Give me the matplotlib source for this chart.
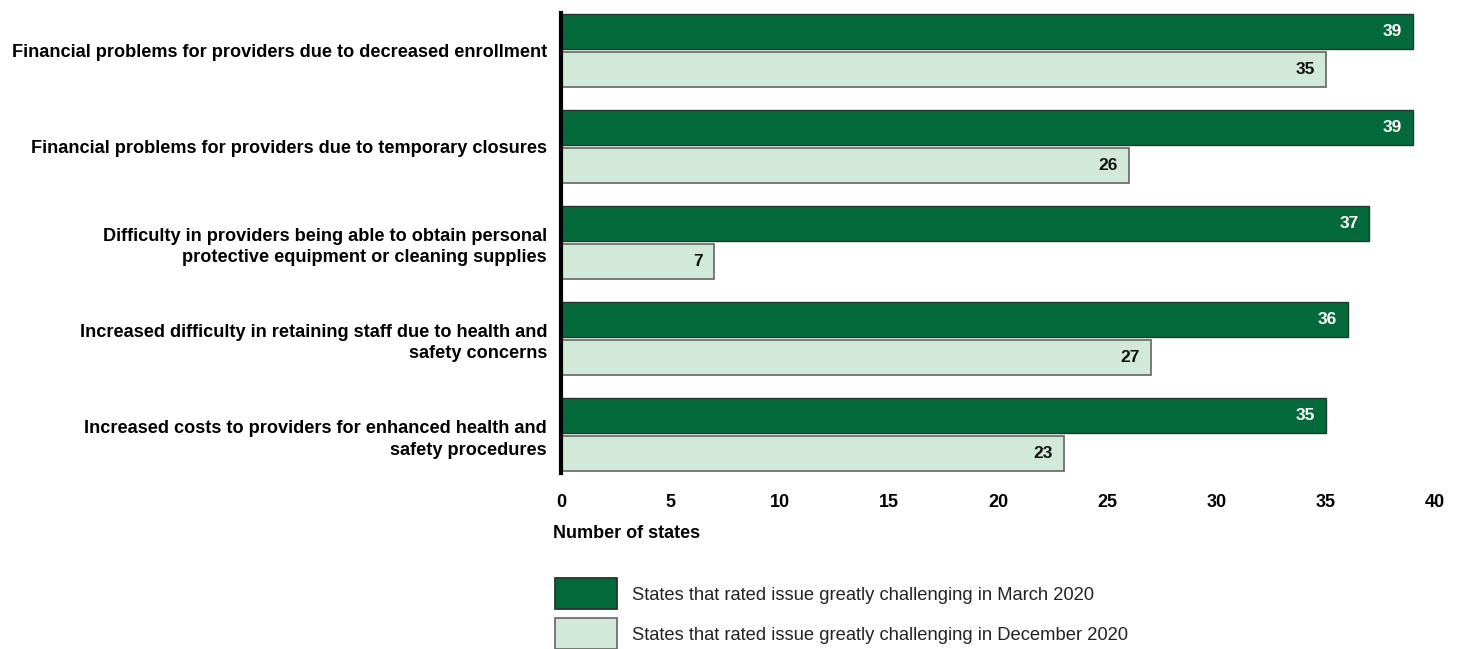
import matplotlib.pyplot as plt
import matplotlib.patches as mpatches
import numpy as np

plt.rcParams['font.family'] = ['Liberation Sans', 'DejaVu Sans']

# data
issues = [
    "Financial problems for providers due to decreased enrollment",
    "Financial problems for providers due to temporary closures",
    "Difficulty in providers being able to obtain personal\nprotective equipment or cleaning supplies",
    "Increased difficulty in retaining staff due to health and\nsafety concerns",
    "Increased costs to providers for enhanced health and\nsafety procedures",
]
march_2020 = [39, 39, 37, 36, 35]
dec_2020 = [35, 26, 7, 27, 23]
series_labels = [
    "States that rated issue greatly challenging in March 2020",
    "States that rated issue greatly challenging in December 2020",
]
xticks = [0, 5, 10, 15, 20, 25, 30, 35, 40]

dark = '#04693b'
light = '#d0e9d9'

fig = plt.figure(figsize=(14.61, 6.49), dpi=100)
ax = fig.add_axes([561/1461, 1 - 473/649, (1435 - 561)/1461, 460/649])

pos = np.arange(len(issues))
h = 0.365
off = 0.198
ax.barh(pos - off, march_2020, height=h, color=dark, edgecolor='#1f3a2a', linewidth=1)
ax.barh(pos + off, dec_2020, height=h, color=light, edgecolor='#6f6f6f', linewidth=1.3)

for i in range(len(issues)):
    ax.text(march_2020[i] - 0.5, pos[i] - off, str(march_2020[i]), ha='right', va='center',
            color='white', fontsize=12.5, fontweight='bold')
    ax.text(dec_2020[i] - 0.5, pos[i] + off, str(dec_2020[i]), ha='right', va='center',
            color='#111111', fontsize=12.5, fontweight='bold')

ax.set_xlim(0, 40)
ax.set_ylim(4.40, -0.39)
ax.set_xticks(xticks)
ax.set_xticklabels([str(t) for t in xticks], fontsize=13, fontweight='bold')
ax.tick_params(axis='x', length=0, pad=15)
ax.set_yticks(pos)
ax.set_yticklabels(issues, fontsize=13.1, fontweight='bold', linespacing=1.38)
ax.tick_params(axis='y', length=0, pad=10)
for s in ['top', 'right', 'bottom']:
    ax.spines[s].set_visible(False)
ax.spines['left'].set_linewidth(3)
ax.spines['left'].set_color('black')

fig.text(553/1461, 1 - 534/649, "Number of states", fontsize=13, fontweight='bold',
         ha='left', va='center')

# legend
for j, (c, ec) in enumerate([(dark, '#1f3a2a'), (light, '#6f6f6f')]):
    y0 = 578 + 40*j
    fig.patches.append(mpatches.Rectangle((555/1461, 1 - (y0 + 31)/649), 62/1461, 31/649,
                                          transform=fig.transFigure, facecolor=c,
                                          edgecolor=ec, linewidth=1.3))
    fig.text(632/1461, 1 - (y0 + 17)/649, series_labels[j], fontsize=13.2,
             ha='left', va='center', color='#222222')

plt.savefig("out.png", dpi=100)
